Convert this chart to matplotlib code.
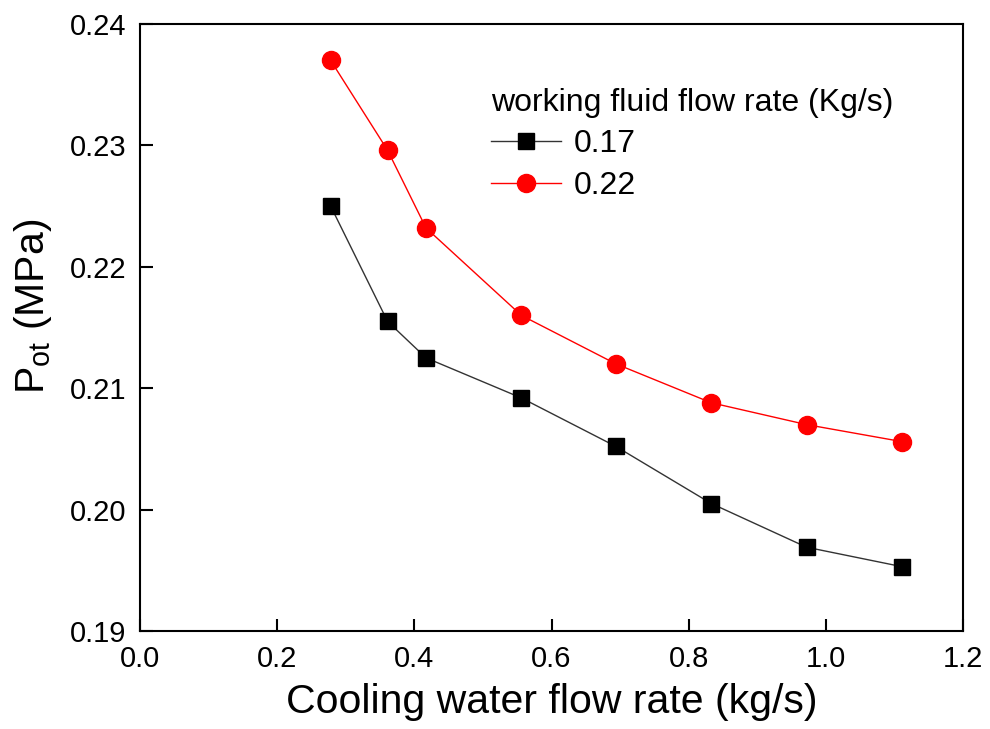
import matplotlib
matplotlib.use("Agg")
import matplotlib.pyplot as plt

plt.rcParams['font.family'] = ['Liberation Sans', 'DejaVu Sans']
plt.rcParams['mathtext.fontset'] = 'custom'
plt.rcParams['mathtext.rm'] = 'Liberation Sans'
plt.rcParams['mathtext.it'] = 'Liberation Sans:italic'

cooling_flow = [0.278, 0.361, 0.417, 0.556, 0.694, 0.833, 0.972, 1.111]
p_017 = [0.2250, 0.2155, 0.2125, 0.2092, 0.2052, 0.2005, 0.1969, 0.1953]
p_022 = [0.2370, 0.2296, 0.2232, 0.2160, 0.2120, 0.2088, 0.2070, 0.2056]
series_labels = ['0.17', '0.22']
legend_title = 'working fluid flow rate (Kg/s)'
xticks = [0.0, 0.2, 0.4, 0.6, 0.8, 1.0, 1.2]
yticks = [0.19, 0.20, 0.21, 0.22, 0.23, 0.24]

fig = plt.figure(figsize=(9.9, 7.29), dpi=100)
ax = fig.add_axes([140/990, 98/729, 823/990, 607/729])

ax.plot(cooling_flow, p_017, color='#333333', lw=1.0, marker='s', ms=11.5,
        mfc='black', mec='black', label=series_labels[0])
ax.plot(cooling_flow, p_022, color='red', lw=1.0, marker='o', ms=13,
        mfc='red', mec='red', label=series_labels[1])

ax.set_xlim(0.0, 1.2)
ax.set_ylim(0.19, 0.24)
ax.set_xticks(xticks)
ax.set_xticklabels([f'{v:.1f}' for v in xticks])
ax.set_yticks(yticks)
ax.set_yticklabels([f'{v:.2f}' for v in yticks])
ax.tick_params(direction='in', length=9, width=1.5, labelsize=21, pad=10,
               top=False, right=False)
for s in ax.spines.values():
    s.set_linewidth(1.5)

ax.set_xlabel('Cooling water flow rate (kg/s)', fontsize=29.5, labelpad=7)
ax.set_ylabel(r'P$_{\mathrm{ot}}$ (MPa)', fontsize=29.5)
ax.yaxis.set_label_coords(-0.105, 0.535)

leg = ax.legend(title=legend_title, loc='upper left', bbox_to_anchor=(0.426, 0.895),
                frameon=False, fontsize=23, title_fontsize=23,
                handlelength=2.2, handletextpad=0.4, labelspacing=0.36,
                borderaxespad=0, borderpad=0)
leg._legend_box.align = 'left'

fig.savefig('out.png', dpi=100)
